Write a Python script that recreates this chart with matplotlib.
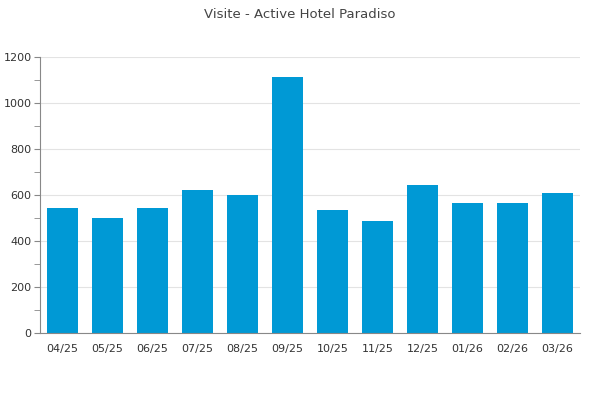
import numpy as np
import matplotlib
matplotlib.use('Agg')
import matplotlib.pyplot as plt
from matplotlib.ticker import MultipleLocator
#
# data
#
months = ['04/25', '05/25', '06/25', '07/25', '08/25', '09/25',
          '10/25', '11/25', '12/25', '01/26', '02/26', '03/26']
visits = [545, 501, 545, 622, 600, 1113, 535, 487, 643, 565, 565, 609]
#
fig = plt.figure(figsize=(6, 4), dpi=100)
ax = fig.add_axes([40/600, 1 - 333/400, 540/600, 276/400])
#
x = np.arange(len(months))
ax.bar(x, visits, width=0.69, color='#0099d5', zorder=2)
#
ax.set_xlim(-0.5, len(months) - 0.5)
ax.set_ylim(0, 1200)
ax.set_xticks(x)
ax.set_xticklabels(months)
ax.yaxis.set_major_locator(MultipleLocator(200))
ax.yaxis.set_minor_locator(MultipleLocator(100))
#
ax.grid(axis='y', which='major', color='#e3e3e3', linewidth=0.8, zorder=0)
for s in ['top', 'right']:
    ax.spines[s].set_visible(False)
for s in ['left', 'bottom']:
    ax.spines[s].set_color('#888888')
    ax.spines[s].set_linewidth(0.8)
#
ax.tick_params(axis='x', length=0, pad=8, labelsize=8, labelcolor='#333333')
ax.tick_params(axis='y', which='major', length=4, color='#888888',
               labelsize=8, labelcolor='#333333', pad=2)
ax.tick_params(axis='y', which='minor', length=4, color='#888888')
#
fig.suptitle('Visite - Active Hotel Paradiso', y=0.98, fontsize=9.5,
             color='#444444')
#
fig.savefig('out.png')
